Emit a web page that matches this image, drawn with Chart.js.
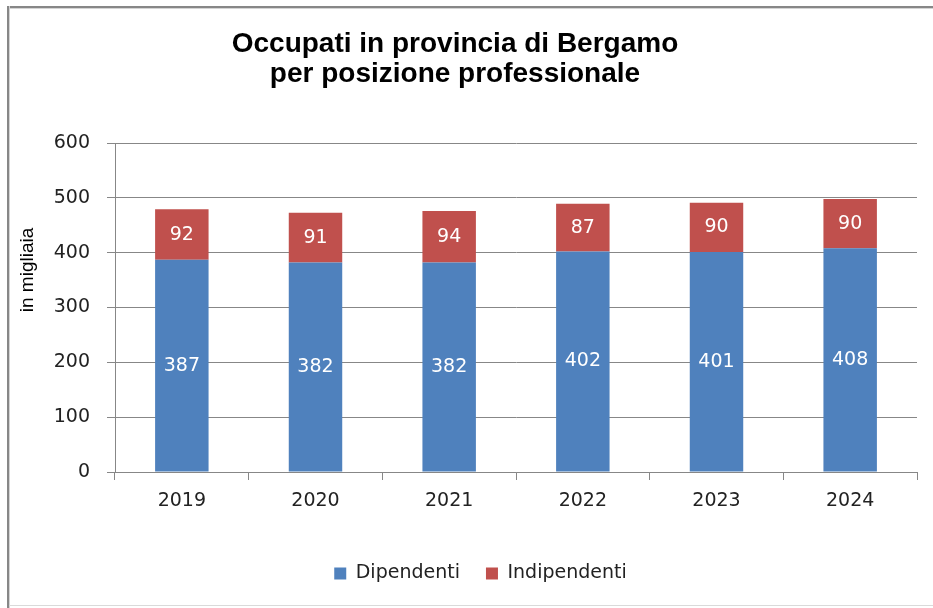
<!DOCTYPE html>
<html>
<head>
<meta charset="utf-8">
<script src="https://cdn.jsdelivr.net/npm/chart.js@4/dist/chart.umd.min.js"></script>
<style>
  html, body { margin: 0; padding: 0; background: #fff; overflow: hidden; }
  #wrap { position: relative; width: 933px; height: 608px; overflow: hidden; }
  .edge { position: absolute; pointer-events: none; }
  #topEdge { left: 7px; top: 6px; width: 926px; height: 2px; background: #878787; border-bottom: 1px solid #d4d4d4; }
  #leftEdge { left: 7px; top: 6px; width: 2px; height: 602px; background: #878787; border-right: 1px solid #d4d4d4; }
  #bottomEdge { left: 9px; top: 605px; width: 924px; height: 1px; background: #dadada; }
</style>
</head>
<body>
<div id="wrap">
  <canvas id="chart" width="933" height="608"></canvas>
  <div class="edge" id="topEdge"></div>
  <div class="edge" id="leftEdge"></div>
  <div class="edge" id="bottomEdge"></div>
</div>
<script>
// data
const years = ['2019', '2020', '2021', '2022', '2023', '2024'];
const dipendenti = [387, 382, 382, 402, 401, 408];
const indipendenti = [92, 91, 94, 87, 90, 90];
const yTicks = [0, 100, 200, 300, 400, 500, 600];

const titleLines = ['Occupati in provincia di Bergamo', 'per posizione professionale'];
const yTitle = 'in migliaia';
const tickFont = { family: 'DejaVu Sans', size: 19 };
const gridColor = '#878787';

// title and axis title drawn by hand: the original has them off-centre
const titlePlugin = {
  id: 'offsetTitle',
  afterDraw(chart) {
    const c = chart.ctx;
    c.save();
    c.fillStyle = '#000';
    c.font = 'bold 28px "Liberation Sans", Arial, sans-serif';
    c.textAlign = 'center';
    c.textBaseline = 'alphabetic';
    titleLines.forEach((t, i) => c.fillText(t, 455, 52 + i * 30));

    c.font = '19px "Liberation Sans", Arial, sans-serif';
    c.textBaseline = 'middle';
    c.translate(28, 270);
    c.rotate(-Math.PI / 2);
    c.fillText(yTitle, 0, 0);
    c.restore();
  }
};

// legend sits a little right of the canvas centre in the original
const legendShift = {
  id: 'legendShift',
  afterLayout(chart) {
    chart.legend.left += 14;
    chart.legend.right += 14;
  }
};

// white value labels in the middle of each segment
const valueLabels = {
  id: 'valueLabels',
  afterDatasetsDraw(chart) {
    const c = chart.ctx;
    c.save();
    c.fillStyle = '#fff';
    c.font = '19px "DejaVu Sans"';
    c.textAlign = 'center';
    c.textBaseline = 'middle';
    chart.data.datasets.forEach((ds, di) => {
      chart.getDatasetMeta(di).data.forEach((bar, i) => {
        const p = bar.getProps(['x', 'y', 'base'], true);
        c.fillText(String(ds.data[i]), p.x, (p.y + p.base) / 2);
      });
    });
    c.restore();
  }
};

const bgPlugin = {
  id: 'bg',
  beforeDraw(chart) {
    const c = chart.ctx;
    c.save();
    c.fillStyle = '#fff';
    c.fillRect(0, 0, chart.width, chart.height);
    c.restore();
  }
};

new Chart(document.getElementById('chart').getContext('2d'), {
  type: 'bar',
  data: {
    labels: years,
    datasets: [
      { label: 'Dipendenti', data: dipendenti, backgroundColor: '#4F81BD', barPercentage: 0.4, categoryPercentage: 1 },
      { label: 'Indipendenti', data: indipendenti, backgroundColor: '#C0504D', barPercentage: 0.4, categoryPercentage: 1 }
    ]
  },
  options: {
    responsive: false,
    animation: false,
    layout: { padding: { left: 16, top: 143, right: 16, bottom: 15 } },
    scales: {
      x: {
        stacked: true,
        grid: { display: true, drawOnChartArea: false, drawTicks: true, tickLength: 8, color: gridColor, offset: true },
        border: { color: gridColor },
        ticks: { font: tickFont, color: '#222', padding: 10 },
        afterFit: s => { s.height = 66; }
      },
      y: {
        stacked: true,
        min: 0,
        max: 600,
        afterBuildTicks: s => { s.ticks = yTicks.map(v => ({ value: v })); },
        grid: { color: gridColor, tickLength: 8 },
        border: { color: gridColor },
        ticks: { font: tickFont, color: '#222', padding: 17 },
        afterFit: s => { s.width = 99; }
      }
    },
    plugins: {
      legend: {
        position: 'bottom',
        labels: { font: tickFont, color: '#222', boxWidth: 12, boxHeight: 12, padding: 26 }
      },
      tooltip: { enabled: false }
    }
  },
  plugins: [bgPlugin, legendShift, valueLabels, titlePlugin]
});
</script>
</body>
</html>
